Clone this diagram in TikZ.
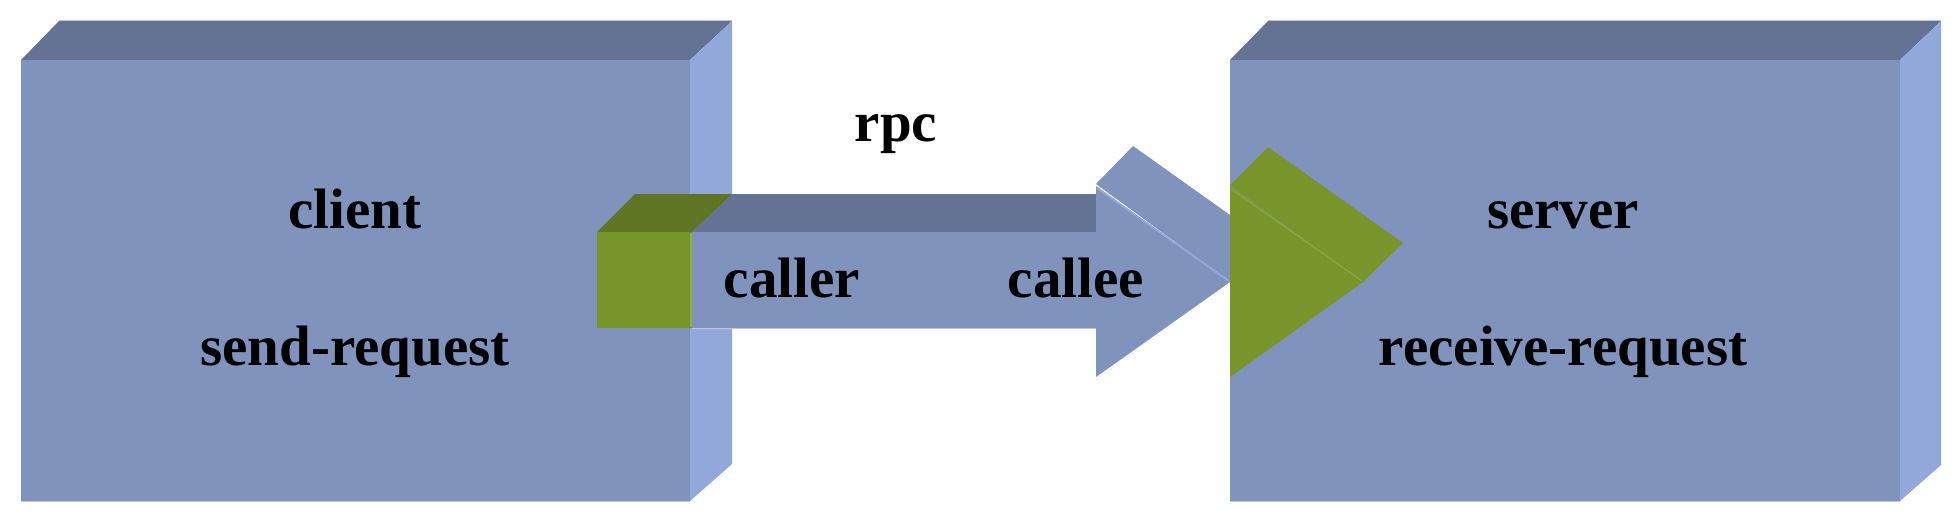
\documentclass[tikz,border=0pt]{standalone}
\usepackage{fontspec}
\setmainfont{Liberation Serif}
\definecolor{frontc}{RGB}{127,147,189}
\definecolor{topc}{RGB}{100,115,147}
\definecolor{sidec}{RGB}{146,168,218}
\definecolor{greenf}{RGB}{120,149,44}
\definecolor{greent}{RGB}{95,117,35}
\definecolor{greenl}{RGB}{141,176,58}
\definecolor{edgec}{RGB}{196,198,204}
\begin{document}
\begin{tikzpicture}[x=1pt,y=-1pt,
  lbl/.style={font=\fontsize{57}{60}\selectfont\bfseries, text=black, anchor=base, inner sep=0pt},
  frontface/.style={fill=frontc},
  topface/.style={fill=topc},
  sideface/.style={fill=sidec},
  gfront/.style={fill=greenf},
  gtop/.style={fill=greent},
  hilite/.style={draw=sidec, line width=2pt},
  ghilite/.style={draw=greenl, line width=2pt},
  rim/.style={draw=edgec, line width=1.5pt}]
\useasboundingbox (0,0) rectangle (1956,524);
\fill[white] (0,0) rectangle (1956,524);

% client box
\path[topface] (21,60) -- (59,21) -- (732,21) -- (690,60) -- cycle;
\path[sideface] (690,60) -- (732,21) -- (732,464) -- (690,501) -- cycle;
\path[frontface] (21,60) rectangle (690,501);
\draw[rim] (59,20.5) -- (732,20.5);
\draw[rim] (21,501.5) -- (690,501.5);

% arrow shaft and head
\path[topface] (692,232) -- (732,194) -- (1098,194) -- (1098,232) -- cycle;
\path[frontface] (692,232) rectangle (1097,328);
\draw[rim] (692,328.5) -- (1096,328.5);
\path[frontface] (1096,184) -- (1133,146) -- (1268,242) -- (1230,282) -- cycle;
\path[frontface] (1096,186) -- (1230,282) -- (1096,377) -- cycle;
\draw[hilite] (1097,188) -- (1229,281);
% green cube
\path[gtop] (597,232) -- (635,194) -- (732,194) -- (692,232) -- cycle;
\path[gfront] (597,232) rectangle (692,328);
\draw[ghilite] (691,233) -- (691,327);

% server box
\path[topface] (1230,60) -- (1268,21) -- (1941,21) -- (1900,60) -- cycle;
\path[sideface] (1900,60) -- (1941,21) -- (1941,465) -- (1900,501) -- cycle;
\path[frontface] (1230,60) rectangle (1900,501);
\draw[rim] (1268,20.5) -- (1941,20.5);
\draw[rim] (1230,501.5) -- (1900,501.5);

% green arrowhead inside server
\path[gfront] (1230,185) -- (1268,147) -- (1403,243) -- (1363,282) -- cycle;
\path[gfront] (1230,186) -- (1363,282) -- (1230,377) -- cycle;
\draw[ghilite, line width=1.5pt, draw opacity=0.7] (1231,189) -- (1362,281);

% labels
\node[lbl] (client) at (355,228) {client};
\node[lbl] (sendreq) at (355,365) {send-request};
\node[lbl] (server) at (1563,228) {server};
\node[lbl] (recvreq) at (1563,365) {receive-request};
\node[lbl] (rpc) at (896,142) {rpc};
\node[lbl] (caller) at (792,297) {caller};
\node[lbl] (callee) at (1076,297) {callee};
\end{tikzpicture}
\end{document}
